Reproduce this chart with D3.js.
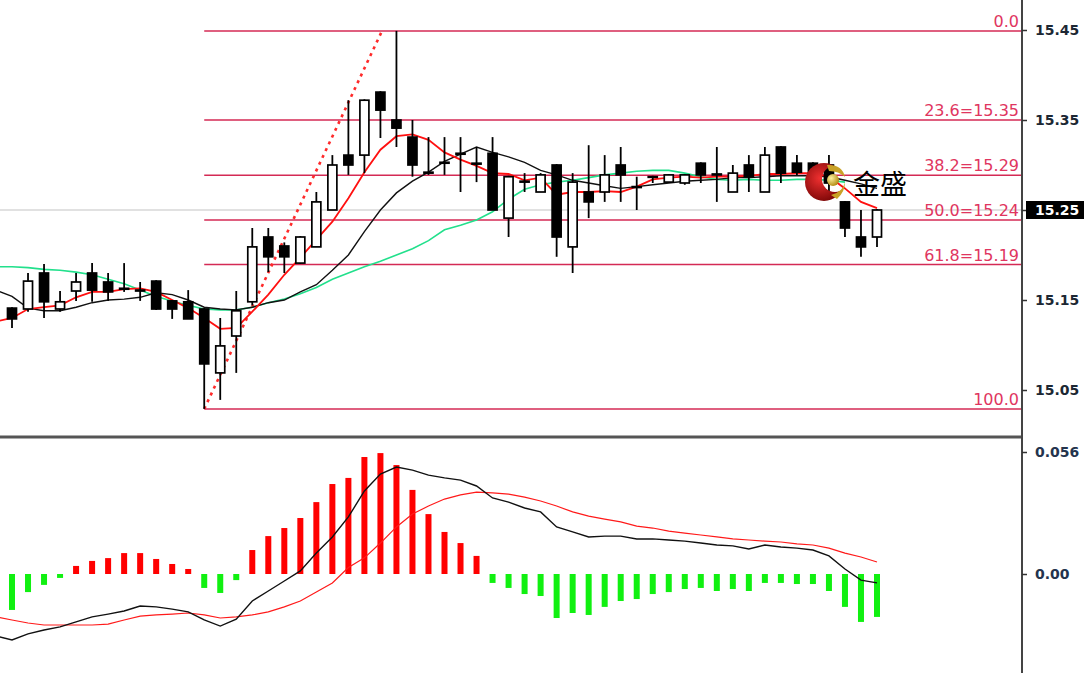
<!DOCTYPE html>
<html><head><meta charset="utf-8">
<script src="https://cdn.jsdelivr.net/npm/d3@7"></script>
<style>body{margin:0;background:#fff;overflow:hidden}svg{display:block}</style>
</head><body>
<svg id="c" width="1084" height="673"></svg>
<script>
// ---------- DATA (bar -1 is the partly hidden bar at the left edge) ----------
const barIndex = d3.range(-1, 55);
const open  = [null, 15.141,15.140,15.180,15.140,15.160,15.180,15.170,15.163,15.161,15.171, 15.149,15.148,15.140,15.069,15.110,15.148,15.220,15.210,15.191,15.209, 15.250,15.311,15.311,15.381,15.350,15.331,15.292,15.302,15.313,15.302, 15.313,15.241,15.281,15.270,15.300,15.209,15.270,15.270,15.300,15.276, 15.287,15.281,15.280,15.302,15.290,15.270,15.300,15.270,15.320,15.302, 15.302,15.300,15.259,15.220,15.220];
const high  = [null, 15.142,15.180,15.190,15.160,15.180,15.191,15.180,15.191,15.170,15.172, 15.150,15.161,15.141,15.130,15.160,15.230,15.230,15.214,15.221,15.270, 15.311,15.372,15.373,15.382,15.449,15.350,15.331,15.331,15.331,15.320, 15.331,15.288,15.291,15.291,15.301,15.291,15.322,15.311,15.320,15.287, 15.288,15.290,15.290,15.303,15.320,15.300,15.311,15.320,15.321,15.311, 15.303,15.311,15.260,15.250,15.251];
const low   = [null, 15.119,15.137,15.130,15.137,15.149,15.148,15.149,15.159,15.149,15.139, 15.129,15.129,15.029,15.039,15.069,15.144,15.181,15.180,15.190,15.209, 15.250,15.289,15.291,15.330,15.320,15.287,15.289,15.289,15.270,15.281, 15.250,15.220,15.270,15.270,15.198,15.180,15.241,15.259,15.259,15.250, 15.280,15.281,15.278,15.280,15.259,15.270,15.270,15.270,15.280,15.289, 15.291,15.270,15.220,15.198,15.209];
const close = [null, 15.129,15.171,15.148,15.148,15.170,15.161,15.159,15.162,15.160,15.140, 15.140,15.129,15.079,15.099,15.138,15.209,15.198,15.198,15.220,15.259, 15.300,15.300,15.372,15.361,15.341,15.300,15.291,15.303,15.312,15.301, 15.250,15.287,15.282,15.289,15.220,15.281,15.259,15.289,15.289,15.275, 15.287,15.289,15.289,15.289,15.289,15.291,15.287,15.311,15.291,15.292, 15.292,15.280,15.230,15.209,15.250];

const maFast = [15.126,15.130,15.140,15.142,15.144,15.153,15.159,15.159,15.162,15.163,15.159, 15.150,15.141,15.130,15.118,15.119,15.137,15.156,15.178,15.197,15.217, 15.237,15.263,15.292,15.317,15.332,15.334,15.328,15.314,15.306,15.299, 15.291,15.290,15.283,15.286,15.267,15.270,15.270,15.271,15.270,15.276, 15.284,15.286,15.287,15.286,15.287,15.287,15.288,15.290,15.290,15.291, 15.291,15.287,15.274,15.259,15.252];
const maMid  = [15.161,15.154,15.141,15.138,15.138,15.142,15.147,15.150,15.151,15.153,15.158, 15.156,15.150,15.142,15.140,15.139,15.142,15.147,15.150,15.159,15.167, 15.183,15.200,15.226,15.250,15.269,15.282,15.292,15.304,15.312,15.320, 15.314,15.309,15.303,15.294,15.289,15.283,15.280,15.277,15.274,15.276, 15.278,15.280,15.282,15.283,15.284,15.286,15.286,15.287,15.288,15.288, 15.288,15.287,15.283,15.279,15.274];
const maSlow = [15.187,15.187,15.186,15.184,15.183,15.181,15.178,15.173,15.168,15.161,15.154, 15.149,15.144,15.140,15.139,15.139,15.142,15.147,15.151,15.157,15.164, 15.173,15.180,15.187,15.193,15.200,15.207,15.216,15.228,15.233,15.239, 15.248,15.262,15.273,15.278,15.281,15.283,15.286,15.289,15.291,15.293, 15.294,15.294,15.291,15.287,15.284,15.283,15.284,15.283,15.283,15.284, 15.284,15.283,15.281,null,null];

const macdHist   = [null, -0.0165,-0.0083,-0.0050,-0.0018,0.0037,0.0060,0.0073,0.0096,0.0096,0.0069, 0.0046,0.0023,-0.0064,-0.0087,-0.0028,0.0110,0.0174,0.0211,0.0257,0.0330, 0.0413,0.0441,0.0537,0.0555,0.0500,0.0386,0.0275,0.0193,0.0142,0.0083, -0.0041,-0.0064,-0.0092,-0.0101,-0.0202,-0.0179,-0.0188,-0.0151,-0.0124,-0.0115, -0.0092,-0.0083,-0.0069,-0.0064,-0.0078,-0.0069,-0.0078,-0.0041,-0.0041,-0.0046, -0.0046,-0.0078,-0.0151,-0.0220,-0.0197];
const macdLine   = [-0.0285,-0.0303,-0.0275,-0.0257,-0.0243,-0.0220,-0.0197,-0.0184,-0.0170,-0.0147,-0.0151, -0.0161,-0.0174,-0.0211,-0.0239,-0.0207,-0.0124,-0.0078,-0.0032,0.0014,0.0096, 0.0170,0.0262,0.0381,0.0459,0.0491,0.0477,0.0454,0.0441,0.0431,0.0404, 0.0349,0.0330,0.0303,0.0285,0.0216,0.0193,0.0170,0.0174,0.0174,0.0161, 0.0161,0.0156,0.0151,0.0142,0.0133,0.0129,0.0115,0.0133,0.0124,0.0119, 0.0110,0.0083,0.0023,-0.0028,-0.0041];
const macdSignal = [-0.0197,-0.0211,-0.0225,-0.0234,-0.0234,-0.0234,-0.0234,-0.0230,-0.0211,-0.0193,-0.0188, -0.0184,-0.0179,-0.0188,-0.0202,-0.0197,-0.0188,-0.0174,-0.0151,-0.0124,-0.0083, -0.0041,0.0030,0.0074,0.0142,0.0216,0.0275,0.0312,0.0344,0.0363,0.0376, 0.0372,0.0367,0.0353,0.0335,0.0312,0.0285,0.0266,0.0252,0.0239,0.0220, 0.0211,0.0197,0.0188,0.0179,0.0170,0.0161,0.0156,0.0151,0.0147,0.0138, 0.0133,0.0119,0.0096,0.0078,0.0055];

const priceTicks = [15.05, 15.15, 15.25, 15.35, 15.45];
const macdTicks = [0, 0.056];
const macdTickLabels = ["0.00", "0.056"];
const fibLevels = [0, 23.6, 38.2, 50, 61.8, 100];
const fibLabels = ["0.0", "23.6=15.35", "38.2=15.29", "50.0=15.24", "61.8=15.19", "100.0"];
const fibHigh = 15.449, fibLow = 15.029;
const fibStartBar = 12, fibTrendEndBar = 23.1;
const lastPrice = 15.25;
const logoText = "金盛";

// ---------- SCALES ----------
const svg = d3.select("#c");
const axisX = 1022;
const x = d3.scaleLinear().domain([0, 54]).range([12, 877]);
const yP = d3.scaleLinear().domain([15.05, 15.45]).range([390, 30]);
const yM = d3.scaleLinear().domain([0, 0.056]).range([574, 452]);

const defs = svg.append("defs");
defs.append("clipPath").attr("id","cpMain").append("rect").attr("x",0).attr("y",0).attr("width",axisX).attr("height",435);
defs.append("clipPath").attr("id","cpMacd").append("rect").attr("x",0).attr("y",440).attr("width",axisX).attr("height",233);

const main = svg.append("g").attr("clip-path","url(#cpMain)");
const macdG = svg.append("g").attr("clip-path","url(#cpMacd)");

// current price line
main.append("line").attr("x1",0).attr("x2",axisX).attr("y1",yP(lastPrice)).attr("y2",yP(lastPrice))
  .attr("stroke","#c4c4c4").attr("stroke-width",1.2);

// fibonacci
const fibColor = "#d42a55";
const fibPrice = l => fibHigh - l/100*(fibHigh - fibLow);
main.selectAll(".fib").data(fibLevels).join("line")
  .attr("x1", x(fibStartBar)).attr("x2", axisX)
  .attr("y1", d => yP(fibPrice(d))).attr("y2", d => yP(fibPrice(d)))
  .attr("stroke", fibColor).attr("stroke-width", 1.5);
main.selectAll(".fibt").data(fibLevels).join("text")
  .attr("x", axisX - 3).attr("y", d => yP(fibPrice(d)) - 4)
  .attr("text-anchor","end").attr("fill","#e03560")
  .style("font-family","DejaVu Sans, sans-serif").style("font-size","16px")
  .text((d,i) => fibLabels[i]);
main.append("line")
  .attr("x1", x(fibStartBar)).attr("y1", yP(fibLow))
  .attr("x2", x(fibTrendEndBar)).attr("y2", yP(fibHigh))
  .attr("stroke","#ff2a2a").attr("stroke-width",2.6).attr("stroke-dasharray","3,4.5");

// moving averages
const lineGen = (arr, ys) => d3.line().defined((d,i)=>arr[i]!=null).x(d=>x(d)).y((d,i)=>ys(arr[i]));
main.append("path").attr("d", lineGen(maSlow, yP)(barIndex)).attr("fill","none").attr("stroke","#22e08c").attr("stroke-width",1.6);
main.append("path").attr("d", lineGen(maMid, yP)(barIndex)).attr("fill","none").attr("stroke","#111").attr("stroke-width",1.4);
main.append("path").attr("d", lineGen(maFast, yP)(barIndex)).attr("fill","none").attr("stroke","#ff1010").attr("stroke-width",1.8);

// candles
const cData = barIndex.map((b,i)=>({b, o:open[i], h:high[i], l:low[i], c:close[i]})).filter(d=>d.o!=null);
const cg = main.append("g");
cg.selectAll(".wick").data(cData).join("line")
  .attr("x1", d=>x(d.b)).attr("x2", d=>x(d.b))
  .attr("y1", d=>yP(d.h)).attr("y2", d=>yP(d.l))
  .attr("stroke","#000").attr("stroke-width",1.8);
cg.selectAll(".body").data(cData).join("rect")
  .attr("x", d=>x(d.b)-4.5).attr("width",9)
  .attr("y", d=>yP(Math.max(d.o,d.c)))
  .attr("height", d=>Math.max(0.6, Math.abs(yP(d.o)-yP(d.c))))
  .attr("fill", d=> d.c > d.o ? "#fff" : "#000")
  .attr("stroke","#000").attr("stroke-width",1.7);

// logo
const lg = svg.append("g").attr("transform","translate(824,182)");
const rg = defs.append("radialGradient").attr("id","rg").attr("cx","40%").attr("cy","40%").attr("r","65%");
rg.append("stop").attr("offset","0%").attr("stop-color","#f03030");
rg.append("stop").attr("offset","100%").attr("stop-color","#7a0606");
const gg = defs.append("radialGradient").attr("id","gg").attr("cx","35%").attr("cy","35%").attr("r","70%");
gg.append("stop").attr("offset","0%").attr("stop-color","#fff2a0");
gg.append("stop").attr("offset","100%").attr("stop-color","#b08a10");
const mk = defs.append("mask").attr("id","cres");
mk.append("rect").attr("x",-30).attr("y",-30).attr("width",60).attr("height",60).attr("fill","#fff");
mk.append("circle").attr("cx",11).attr("cy",-3).attr("r",13).attr("fill","#000");
lg.append("circle").attr("r",19).attr("fill","url(#rg)").attr("mask","url(#cres)");
lg.append("path").attr("d","M3,-17 Q18,-18 21,-5 Q15,-11 5,-11 Z").attr("fill","#c9a227");
lg.append("path").attr("d","M7,13 Q19,10 21,0 Q21,10 13,17 Z").attr("fill","#c9a227");
lg.append("circle").attr("cx",9).attr("cy",-2).attr("r",6).attr("fill","url(#gg)");
svg.append("text").attr("x",853).attr("y",194).text(logoText)
  .style("font-family","'Noto Sans CJK SC', sans-serif").style("font-size","27px").attr("fill","#000");

// MACD histogram
const hData = barIndex.map((b,i)=>({b, v:macdHist[i]})).filter(d=>d.v!=null);
macdG.selectAll(".hb").data(hData).join("rect")
  .attr("x", d=>x(d.b)-3).attr("width",6)
  .attr("y", d=>Math.min(yM(d.v), yM(0))).attr("height", d=>Math.abs(yM(d.v)-yM(0)))
  .attr("fill", d=> d.v >= 0 ? "#ff0000" : "#11f011");
macdG.append("path").attr("d", lineGen(macdSignal, yM)(barIndex)).attr("fill","none").attr("stroke","#ff1a1a").attr("stroke-width",1.2);
macdG.append("path").attr("d", lineGen(macdLine, yM)(barIndex)).attr("fill","none").attr("stroke","#111").attr("stroke-width",1.4);

// separators and axes
svg.append("line").attr("x1",0).attr("x2",axisX).attr("y1",437).attr("y2",437).attr("stroke","#555").attr("stroke-width",3);
svg.append("line").attr("x1",axisX).attr("x2",axisX).attr("y1",0).attr("y2",673).attr("stroke","#444").attr("stroke-width",2);

const pAxis = svg.append("g").attr("transform",`translate(${axisX},0)`)
  .call(d3.axisRight(yP).tickValues(priceTicks).tickFormat(d3.format(".2f")).tickSize(5).tickPadding(8));
const mAxis = svg.append("g").attr("transform",`translate(${axisX},0)`)
  .call(d3.axisRight(yM).tickValues(macdTicks).tickFormat((d,i)=>macdTickLabels[i]).tickSize(5).tickPadding(8));
[pAxis, mAxis].forEach(a=>{
  a.select(".domain").remove();
  a.selectAll("line").attr("stroke","#333").attr("stroke-width",1.5);
  a.selectAll("text").attr("fill","#1c2733").style("font-family","DejaVu Sans, sans-serif").style("font-size","14px").style("font-weight","bold");
});
mAxis.selectAll("text").attr("fill","#24344d");

// last price marker
svg.append("rect").attr("x",1026).attr("y",yP(lastPrice)-9).attr("width",58).attr("height",18).attr("fill","#000");
svg.append("text").attr("x",1035).attr("y",yP(lastPrice)+5).text(d3.format(".2f")(lastPrice))
  .attr("fill","#fff").style("font-family","DejaVu Sans, sans-serif").style("font-size","14px").style("font-weight","bold");
</script>
</body></html>
